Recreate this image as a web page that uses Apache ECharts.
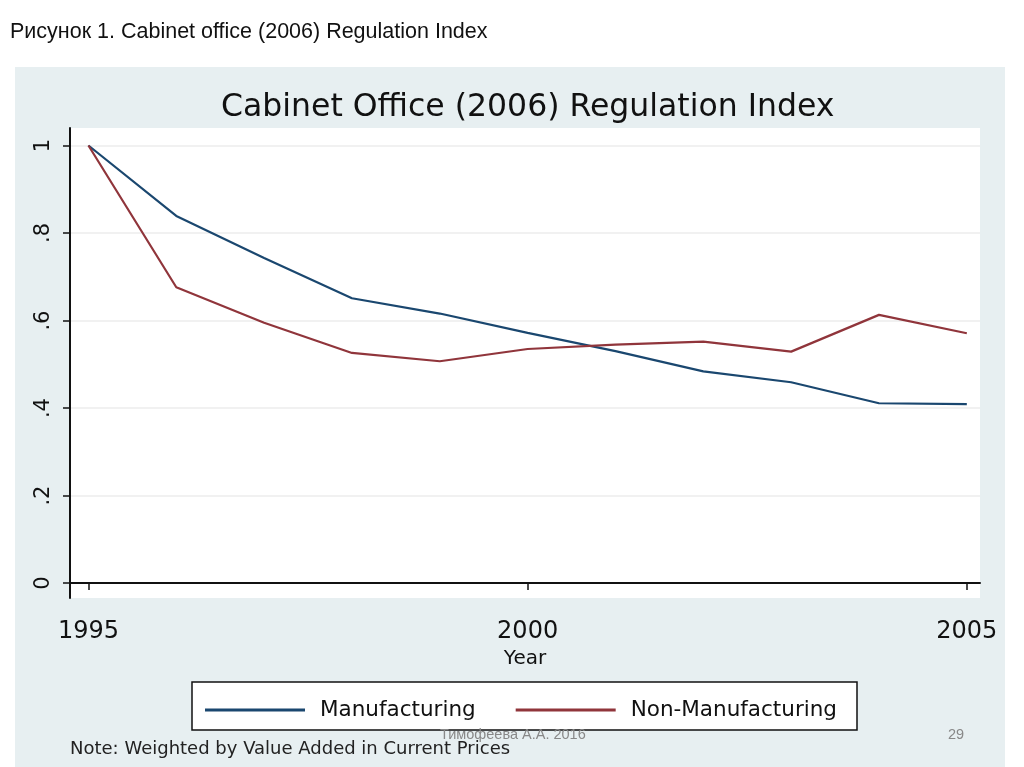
<!DOCTYPE html>
<html>
<head>
<meta charset="utf-8">
<script src="https://cdn.jsdelivr.net/npm/echarts@6/dist/echarts.min.js"></script>
<style>
html,body{margin:0;padding:0;background:#ffffff;}
#chart{width:1024px;height:767px;}
</style>
</head>
<body>
<div id="chart"></div>
<script>
const years = [1995,1996,1997,1998,1999,2000,2001,2002,2003,2004,2005];
const manufacturing = [1.0,0.839,0.743,0.651,0.616,0.572,0.530,0.484,0.459,0.411,0.409];
const nonManufacturing = [1.0,0.676,0.595,0.526,0.507,0.535,0.545,0.552,0.529,0.613,0.571];
const xTicks = [1995,2000,2005];
const yTicks = [0,0.2,0.4,0.6,0.8,1];
const yTickLabels = ['0','.2','.4','.6','.8','1'];

const FONT = 'DejaVu Sans';
const chart = echarts.init(document.getElementById('chart'), null, {renderer:'canvas'});
chart.setOption({
  backgroundColor:'#ffffff',
  animation:false,
  graphic:[
    {type:'rect', z:-10, shape:{x:15,y:67,width:990,height:700}, style:{fill:'#e7eff1'}},
    {type:'text', left:10, top:21, style:{text:'Рисунок 1. Cabinet office (2006) Regulation Index', font:'21.5px "Liberation Sans", Arial, sans-serif', fill:'#111'}},
    {type:'rect', z:5, shape:{x:192,y:682,width:665,height:48}, style:{fill:'#ffffff', stroke:'#111', lineWidth:1.5}},
    {type:'text', left:70, top:740, z:6, style:{text:'Note: Weighted by Value Added in Current Prices', font:'18px "DejaVu Sans"', fill:'#222'}},
    {type:'text', left:440, top:727, z:7, style:{text:'Тимофеева А.А. 2016', font:'14.5px "Liberation Sans Narrow", "Liberation Sans", sans-serif', fill:'#888'}},
    {type:'text', left:948, top:727, z:7, style:{text:'29', font:'14.5px "Liberation Sans Narrow", "Liberation Sans", sans-serif', fill:'#888'}}
  ],
  title:{
    text:'Cabinet Office (2006) Regulation Index',
    left:216, top:87,
    textStyle:{fontFamily:FONT, fontSize:31.5, fontWeight:'normal', color:'#111'}
  },
  grid:{left:70, top:128, right:1024-980, bottom:767-598, backgroundColor:'#ffffff', show:true, borderWidth:0},
  legend:{
    left:200, top:694, z:10,
    icon:'rect', itemWidth:100, itemHeight:3, itemGap:40,
    textStyle:{fontFamily:FONT, fontSize:21.5, color:'#111', padding:[0,0,0,10]},
    data:['Manufacturing','Non-Manufacturing']
  },
  xAxis:{
    type:'value', min:1994.79, max:2005.15,
    name:'Year', nameLocation:'middle', nameGap:50,
    nameTextStyle:{fontFamily:FONT, fontSize:20, color:'#111'},
    axisLine:{lineStyle:{color:'#111', width:2}},
    axisTick:{customValues:xTicks, length:7, lineStyle:{color:'#111', width:1.5}},
    axisLabel:{customValues:xTicks, margin:22, fontFamily:FONT, fontSize:24, color:'#111',
      formatter:function(v){ return String(Math.round(v)); }},
    splitLine:{show:false}
  },
  yAxis:{
    type:'value', min:-0.034, max:1.04,
    axisLine:{show:true, lineStyle:{color:'#111', width:2}},
    axisTick:{show:true, customValues:yTicks, length:7, lineStyle:{color:'#111', width:1.5}},
    axisLabel:{customValues:yTicks, rotate:90, margin:16, fontFamily:FONT, fontSize:21, color:'#111',
      formatter:function(v){ const i = yTicks.findIndex(t=>Math.abs(t-v)<1e-6); return i>=0 ? yTickLabels[i] : ''; }},
    splitLine:{show:true, lineStyle:{color:'#ececec', width:1.5}}
  },
  series:[
    {name:'Manufacturing', type:'line', symbol:'none', data:years.map((y,i)=>[y,manufacturing[i]]),
      lineStyle:{color:'#1a476f', width:2.2}, itemStyle:{color:'#1a476f'}},
    {name:'Non-Manufacturing', type:'line', symbol:'none', data:years.map((y,i)=>[y,nonManufacturing[i]]),
      lineStyle:{color:'#90353b', width:2.2}, itemStyle:{color:'#90353b'}}
  ]
});
</script>
</body>
</html>
